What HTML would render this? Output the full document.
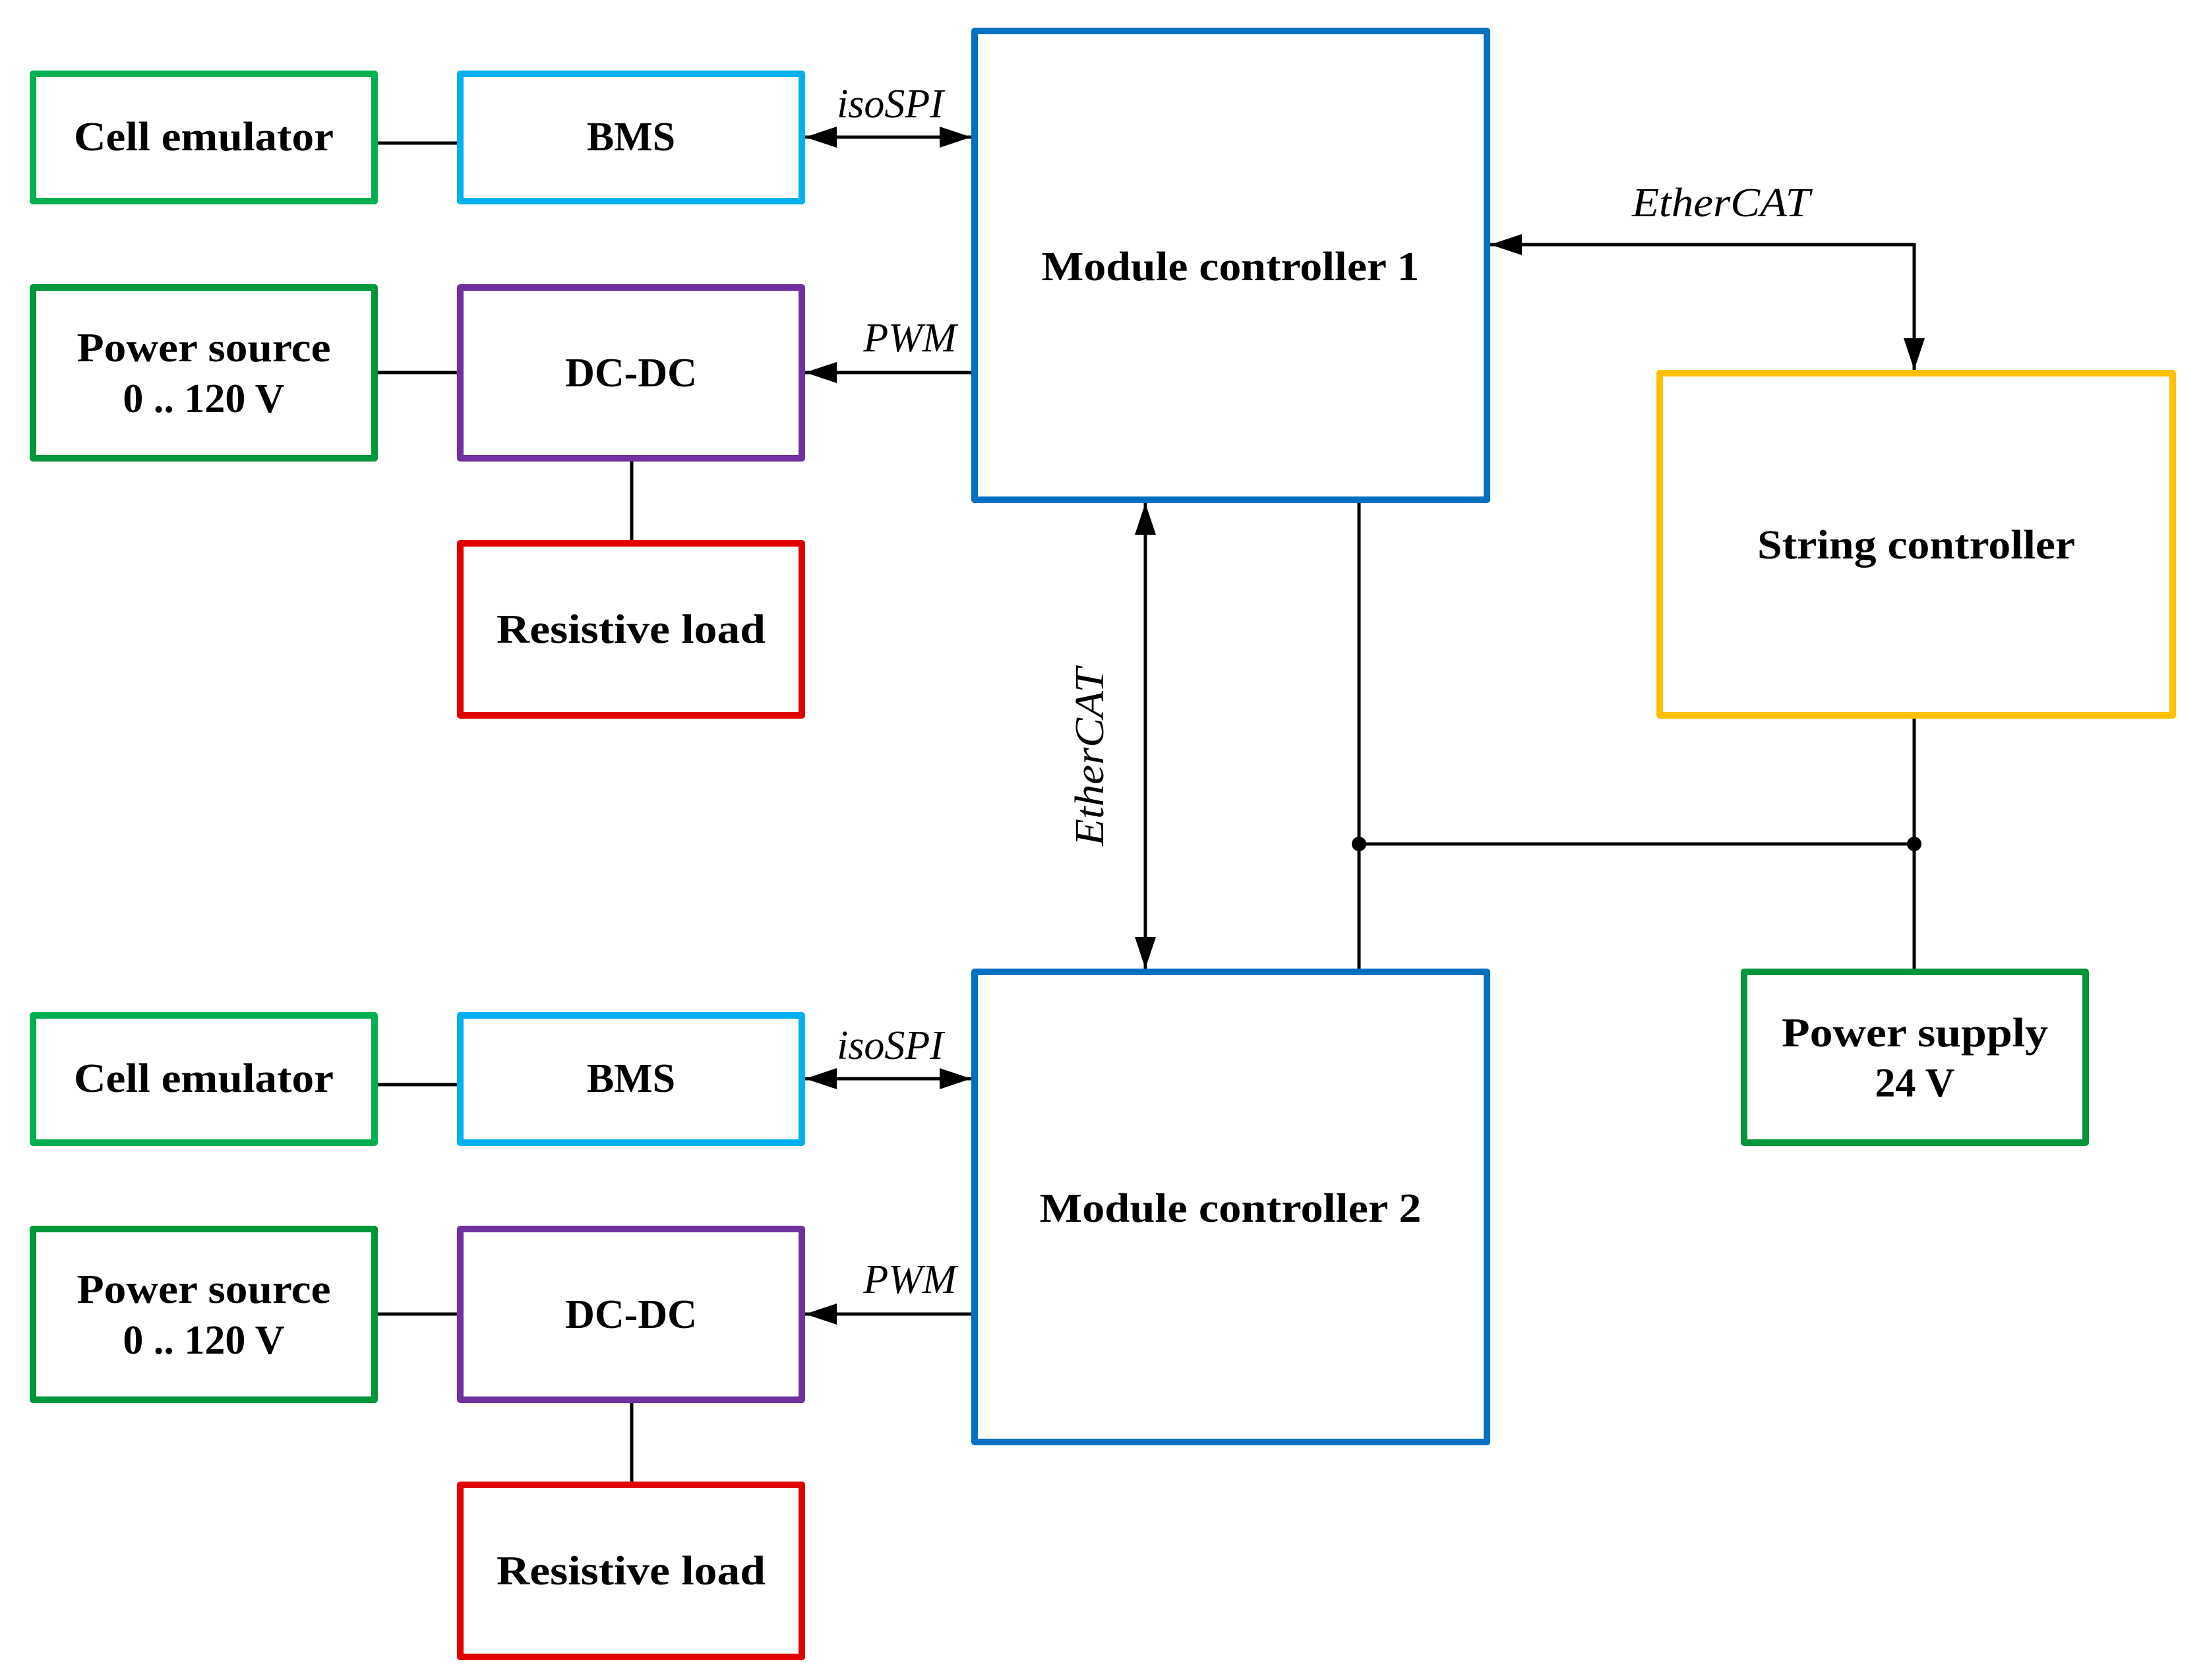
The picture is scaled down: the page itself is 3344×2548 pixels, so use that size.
<!DOCTYPE html>
<html><head><meta charset="utf-8"><style>html,body{margin:0;padding:0;background:#fff}svg{display:block}</style></head>
<body>
<svg width="3344" height="2548" viewBox="0 0 3344 2548" xmlns="http://www.w3.org/2000/svg">
<defs>
<marker id="ah" viewBox="0 0 48 32" refX="48" refY="16" markerWidth="48" markerHeight="32" markerUnits="userSpaceOnUse" orient="auto-start-reverse">
<path d="M0,0 L48,16 L0,32 Z" fill="#000"/></marker>
</defs>
<g fill="none" stroke-width="10" stroke-linejoin="round">
<rect x="50" y="112" width="518" height="193" stroke="#00b050"/>
<rect x="698" y="112" width="518" height="193" stroke="#00b0f0"/>
<rect x="1478" y="47" width="777" height="711" stroke="#0070c0"/>
<rect x="50" y="436" width="518" height="259" stroke="#009639"/>
<rect x="698" y="436" width="518" height="259" stroke="#7030a0"/>
<rect x="698" y="824" width="518" height="261" stroke="#e00000"/>
<rect x="2517" y="566" width="778" height="519" stroke="#ffc000"/>
<rect x="2645" y="1474" width="518" height="259" stroke="#009639"/>
<rect x="1478" y="1474" width="777" height="713" stroke="#0070c0"/>
<rect x="50" y="1540" width="518" height="193" stroke="#00b050"/>
<rect x="698" y="1540" width="518" height="193" stroke="#00b0f0"/>
<rect x="50" y="1864" width="518" height="259" stroke="#009639"/>
<rect x="698" y="1864" width="518" height="259" stroke="#7030a0"/>
<rect x="698" y="2252" width="518" height="261" stroke="#e00000"/>
</g>
<g stroke="#000" stroke-width="5" fill="none">
<line x1="573" y1="217" x2="693" y2="217"/>
<line x1="573" y1="565" x2="693" y2="565"/>
<line x1="958" y1="700" x2="958" y2="819"/>
<line x1="573" y1="1645" x2="693" y2="1645"/>
<line x1="573" y1="1993" x2="693" y2="1993"/>
<line x1="958" y1="2128" x2="958" y2="2247"/>
<line x1="1221" y1="208" x2="1473" y2="208" marker-start="url(#ah)" marker-end="url(#ah)"/>
<line x1="1473" y1="565" x2="1221" y2="565" marker-end="url(#ah)"/>
<line x1="1221" y1="1636" x2="1473" y2="1636" marker-start="url(#ah)" marker-end="url(#ah)"/>
<line x1="1473" y1="1993" x2="1221" y2="1993" marker-end="url(#ah)"/>
<polyline points="2260,371 2903,371 2903,561" marker-start="url(#ah)" marker-end="url(#ah)"/>
<line x1="1737" y1="763" x2="1737" y2="1469" marker-start="url(#ah)" marker-end="url(#ah)"/>
<line x1="2061" y1="763" x2="2061" y2="1469"/>
<line x1="2903" y1="1090" x2="2903" y2="1469"/>
<line x1="2061" y1="1280" x2="2903" y2="1280"/>
</g>
<circle cx="2061" cy="1280" r="11" fill="#000"/>
<circle cx="2903" cy="1280" r="11" fill="#000"/>
<g font-family="'Liberation Serif', serif" font-weight="bold" font-size="62" text-anchor="middle" fill="#000">
<text x="309" y="228" textLength="394" lengthAdjust="spacingAndGlyphs">Cell emulator</text>
<text x="957" y="228">BMS</text>
<text x="1866" y="425" textLength="573" lengthAdjust="spacingAndGlyphs">Module controller 1</text>
<text x="309" y="548" textLength="385" lengthAdjust="spacingAndGlyphs">Power source</text>
<text x="309" y="625">0 .. 120 V</text>
<text x="957" y="586">DC-DC</text>
<text x="957" y="975" textLength="408" lengthAdjust="spacingAndGlyphs">Resistive load</text>
<text x="2906" y="847" textLength="482" lengthAdjust="spacingAndGlyphs">String controller</text>
<text x="2904" y="1587" textLength="404" lengthAdjust="spacingAndGlyphs">Power supply</text>
<text x="2904" y="1663">24 V</text>
<text x="1866" y="1853" textLength="579" lengthAdjust="spacingAndGlyphs">Module controller 2</text>
<text x="309" y="1656" textLength="394" lengthAdjust="spacingAndGlyphs">Cell emulator</text>
<text x="957" y="1656">BMS</text>
<text x="309" y="1976" textLength="385" lengthAdjust="spacingAndGlyphs">Power source</text>
<text x="309" y="2053">0 .. 120 V</text>
<text x="957" y="2014">DC-DC</text>
<text x="957" y="2403" textLength="408" lengthAdjust="spacingAndGlyphs">Resistive load</text>
</g>
<g font-family="'Liberation Serif', serif" font-style="italic" font-size="62" text-anchor="middle" fill="#000">
<text x="1350" y="178">isoSPI</text>
<text x="1380" y="533">PWM</text>
<text x="1350" y="1606">isoSPI</text>
<text x="1380" y="1961">PWM</text>
<text x="2610" y="328" textLength="270" lengthAdjust="spacingAndGlyphs">EtherCAT</text>
<text x="0" y="0" transform="translate(1673,1148) rotate(-90)" textLength="270" lengthAdjust="spacingAndGlyphs">EtherCAT</text>
</g>
</svg>
</body></html>
